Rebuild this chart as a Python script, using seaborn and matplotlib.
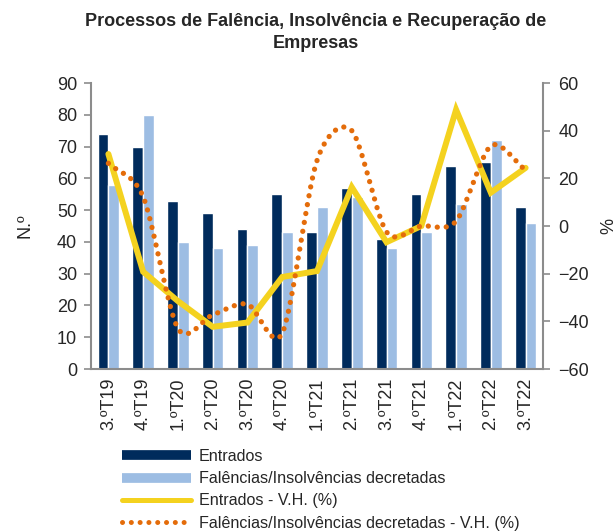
import numpy as np
import pandas as pd
import matplotlib
matplotlib.use("Agg")
import matplotlib.pyplot as plt
from matplotlib.lines import Line2D
import seaborn as sns

quarters = ["3.ºT19", "4.ºT19", "1.ºT20", "2.ºT20", "3.ºT20", "4.ºT20", "1.ºT21",
            "2.ºT21", "3.ºT21", "4.ºT21", "1.ºT22", "2.ºT22", "3.ºT22"]
entrados = [74, 70, 53, 49, 44, 55, 43, 57, 41, 55, 64, 65, 51]
falencias = [58, 80, 40, 38, 39, 43, 51, 54, 38, 43, 52, 72, 46]
entrados_vh = [30.2, -19.2, -31.5, -42.3, -40.5, -21.4, -18.9, 16.3, -6.8, 0.0, 48.8, 14.0, 24.4]
falencias_vh = [26.3, 12.3, -43.0, -37.3, -32.8, -45.0, 27.5, 40.0, -2.5, 0.0, 2.0, 33.6, 23.5]

s_entrados = "Entrados"
s_falencias = "Falências/Insolvências decretadas"
s_entrados_vh = "Entrados - V.H. (%)"
s_falencias_vh = "Falências/Insolvências decretadas - V.H. (%)"

NAVY = "#002B5C"
LIGHT = "#9DBDE3"
YELLOW = "#F4D21F"
ORANGE = "#E46C0A"
GREY = "#8C8C8C"

sns.set_style("white")
plt.rcParams["font.family"] = ["Liberation Sans", "DejaVu Sans"]

df = pd.DataFrame({
    "quarter": quarters * 2,
    "valor": entrados + falencias,
    "serie": [s_entrados] * len(quarters) + [s_falencias] * len(quarters),
})

fig = plt.figure(figsize=(6.14, 5.32), dpi=100)
ax = fig.add_axes([91 / 614, 1 - 369 / 532, 452 / 614, 286 / 532])

sns.barplot(data=df, x="quarter", y="valor", hue="serie", order=quarters,
            palette={s_entrados: NAVY, s_falencias: LIGHT}, width=0.62,
            gap=0.0, saturation=1, legend=False, ax=ax)

n = len(quarters)
ax.set_xlim(-0.5, n - 0.5)
ax.set_ylim(0, 90)
ax.set_yticks(range(0, 91, 10))
ax.set_xlabel("")
ax.set_ylabel("N.º", fontsize=13, labelpad=17)
ax.set_xticks(range(n))
ax.set_xticklabels(quarters, rotation=90, fontsize=13)
ax.set_xticks(np.arange(-0.5, n, 1.0), minor=True)
ax.tick_params(axis="x", which="major", length=0, pad=6)
ax.tick_params(axis="x", which="minor", length=5, width=1.2, color=GREY, direction="out")
ax.tick_params(axis="y", length=5, width=1.2, color=GREY, direction="out", labelsize=13, pad=5)

for side in ["top", "right"]:
    ax.spines[side].set_visible(False)
for side in ["left", "bottom"]:
    ax.spines[side].set_color(GREY)
    ax.spines[side].set_linewidth(1.5)

ax2 = ax.twinx()
ax2.set_ylim(-60, 60)
ax2.set_yticks(range(-60, 61, 20))
ax2.tick_params(axis="y", length=5, width=1.2, color=GREY, direction="out", labelsize=13, pad=6)
ax2.set_ylabel("%", fontsize=13, rotation=270, labelpad=16)
for side in ["top", "left", "bottom"]:
    ax2.spines[side].set_visible(False)
ax2.spines["right"].set_color(GREY)
ax2.spines["right"].set_linewidth(1.5)

x = np.arange(n)
sns.lineplot(x=x, y=entrados_vh, color=YELLOW, lw=4.3, ax=ax2,
             solid_joinstyle="miter", legend=False)


def smooth_curve(xs, ys, steps=30, tension=0.85):
    # cardinal spline through every point, tangents scaled by `tension`
    xs = np.asarray(xs, float)
    ys = np.asarray(ys, float)
    px = np.concatenate([[2 * xs[0] - xs[1]], xs, [2 * xs[-1] - xs[-2]]])
    py = np.concatenate([[2 * ys[0] - ys[1]], ys, [2 * ys[-1] - ys[-2]]])
    ox, oy = [], []
    for i in range(1, len(px) - 2):
        t = np.linspace(0, 1, steps, endpoint=(i == len(px) - 3))
        h00 = 2 * t ** 3 - 3 * t ** 2 + 1
        h10 = t ** 3 - 2 * t ** 2 + t
        h01 = -2 * t ** 3 + 3 * t ** 2
        h11 = t ** 3 - t ** 2
        for arr, out in ((px, ox), (py, oy)):
            p0, p1, p2, p3 = arr[i - 1], arr[i], arr[i + 1], arr[i + 2]
            m1 = tension * 0.5 * (p2 - p0)
            m2 = tension * 0.5 * (p3 - p1)
            out.extend(h00 * p1 + h10 * m1 + h01 * p2 + h11 * m2)
    return np.array(ox), np.array(oy)


cx, cy = smooth_curve(x, falencias_vh)
ax2.plot(cx, cy, color=ORANGE, lw=3.8, linestyle=(0, (0.01, 1.7)),
         dash_capstyle="round")

fig.suptitle("Processos de Falência, Insolvência e Recuperação de\nEmpresas",
             x=316 / 614, y=1 - 13 / 532, fontsize=13, fontweight="bold",
             va="top", linespacing=1.4)

handles = [
    Line2D([], [], color=NAVY, lw=7, solid_capstyle="butt"),
    Line2D([], [], color=LIGHT, lw=7, solid_capstyle="butt"),
    Line2D([], [], color=YELLOW, lw=3.6, solid_capstyle="round"),
    Line2D([], [], color=ORANGE, lw=3.6, linestyle=(0, (0.01, 1.75)), dash_capstyle="round"),
]
labels = [s_entrados, s_falencias, s_entrados_vh, s_falencias_vh]
fig.legend(handles, labels, loc="upper left", bbox_to_anchor=(122 / 614, 1 - 449 / 532),
           frameon=False, fontsize=11.6, handlelength=4.3, handletextpad=0.45,
           labelspacing=0.45, borderaxespad=0, borderpad=0)

fig.savefig("out.png", dpi=100)
